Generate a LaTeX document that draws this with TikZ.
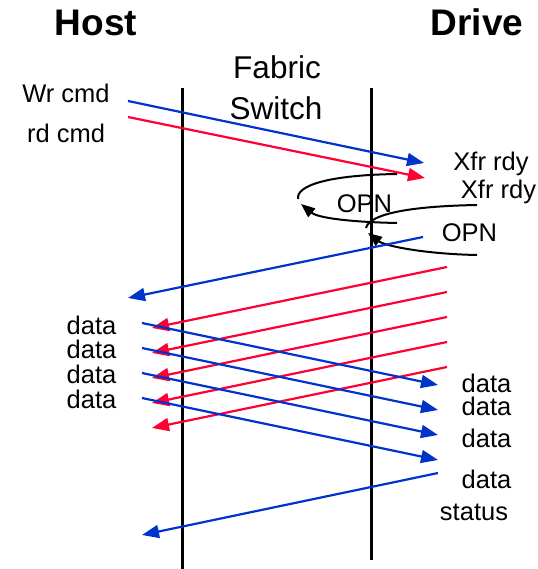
\documentclass[tikz,border=0pt]{standalone}
\usepackage{fontspec}
\setmainfont{Liberation Sans}
\usetikzlibrary{arrows.meta}
\definecolor{msgblue}{RGB}{0,51,204}
\definecolor{msgred}{RGB}{255,0,51}

\begin{document}
\begin{tikzpicture}[x=1pt,y=-1pt]
      \useasboundingbox (0,0) rectangle (537,569);
      \begin{scope}
        \tikzstyle{ttl} = [inner sep=0pt, anchor=base, font=\fontsize{37}{44}\selectfont\bfseries]
        \tikzstyle{swl} = [inner sep=0pt, anchor=base, font=\fontsize{31.5}{38}\selectfont]
        \tikzstyle{lbl} = [inner sep=0pt, anchor=base, font=\fontsize{25.5}{30}\selectfont]
        \tikzstyle{wire} = [line width=3pt]
        \tikzstyle{bmsg} = [line width=2.2pt, draw=msgblue, -{Triangle[length=17pt,width=13pt]}, msgblue]
        \tikzstyle{rmsg} = [line width=2.2pt, draw=msgred, -{Triangle[length=17pt,width=13pt]}, msgred]
        \tikzstyle{loopl} = [line width=2pt, black]
        % titles and labels
        \node[ttl] (host) at (96,36) {Host};
        \node[ttl] (drive) at (477,36) {Drive};
        \node[swl] (fabric) at (277,79) {Fabric};
        \node[swl] (switch) at (276,120) {Switch};
        \node[lbl] (wr) at (66,103) {Wr cmd};
        \node[lbl] (rd) at (66,143) {rd cmd};
        \node[lbl] (xfr1) at (491,171) {Xfr rdy};
        \node[lbl] (xfr2) at (498.5,199) {Xfr rdy};
        \node[lbl] (opn1) at (364.5,212) {OPN};
        \node[lbl] (opn2) at (469.5,241) {OPN};
        \node[lbl] (hd1) at (91.5,334) {data};
        \node[lbl] (hd2) at (91.5,358) {data};
        \node[lbl] (hd3) at (91.5,383) {data};
        \node[lbl] (hd4) at (91.5,408) {data};
        \node[lbl] (dd1) at (486.5,392) {data};
        \node[lbl] (dd2) at (486.5,415) {data};
        \node[lbl] (dd3) at (486.5,447) {data};
        \node[lbl] (dd4) at (486.5,488) {data};
        \node[lbl] (stat) at (474,520) {status};
        % switch boundaries
        \coordinate (lt) at (182,88);
        \coordinate (lb) at (182,569);
        \coordinate (rt) at (371,88);
        \coordinate (rb) at (371,560);
        \draw[wire] (lt) -- (lb);
        \draw[wire] (rt) -- (rb);
        % commands
        \coordinate (wr0) at (128,101);
        \coordinate (wr1) at (424,163);
        \coordinate (rd0) at (128,117);
        \coordinate (rd1) at (425,178);
        \draw[bmsg] (wr0) -- (wr1);
        \draw[rmsg] (rd0) -- (rd1);
        % OPN loops
        \coordinate (oa1) at (397,174);
        \coordinate (ol1) at (298,199);
        \coordinate (ob1) at (397,223);
        \coordinate (ot1) at (301,204);
        \draw[loopl] (oa1) .. controls (330,175) and (296,185) .. (ol1);
        \draw[loopl, -{Triangle[length=14pt,width=11pt]}] (ob1) .. controls (350,222) and (318,218) .. (ot1);
        \coordinate (oa2) at (477,205);
        \coordinate (ol2) at (366,228);
        \coordinate (ob2) at (477,255);
        \coordinate (ot2) at (368,233);
        \draw[loopl] (oa2) .. controls (420,206) and (370,212) .. (ol2);
        \draw[loopl, -{Triangle[length=14pt,width=11pt]}] (ob2) .. controls (425,254) and (385,246) .. (ot2);
        % OPN back to host
        \coordinate (op0) at (423,237);
        \coordinate (op1) at (128,298);
        \draw[bmsg] (op0) -- (op1);
        % read data
        \coordinate (ra0) at (447,267);
        \coordinate (ra1) at (152,328);
        \coordinate (rb0) at (447,292);
        \coordinate (rb1) at (152,353);
        \coordinate (rc0) at (447,317);
        \coordinate (rc1) at (152,378);
        \coordinate (rd0) at (447,342);
        \coordinate (rd1) at (152,403);
        \coordinate (re0) at (447,367);
        \coordinate (re1) at (152,428);
        \draw[rmsg] (ra0) -- (ra1);
        \draw[rmsg] (rb0) -- (rb1);
        \draw[rmsg] (rc0) -- (rc1);
        \draw[rmsg] (rd0) -- (rd1);
        \draw[rmsg] (re0) -- (re1);
        % write data
        \coordinate (wa0) at (142,323);
        \coordinate (wa1) at (438,385);
        \coordinate (wb0) at (142,348);
        \coordinate (wb1) at (438,410);
        \coordinate (wc0) at (142,373);
        \coordinate (wc1) at (438,435);
        \coordinate (wd0) at (142,398);
        \coordinate (wd1) at (438,460);
        \draw[bmsg] (wa0) -- (wa1);
        \draw[bmsg] (wb0) -- (wb1);
        \draw[bmsg] (wc0) -- (wc1);
        \draw[bmsg] (wd0) -- (wd1);
        % status
        \coordinate (st0) at (438,473);
        \coordinate (st1) at (142,535);
        \draw[bmsg] (st0) -- (st1);
      \end{scope}
    \end{tikzpicture}
\end{document}
